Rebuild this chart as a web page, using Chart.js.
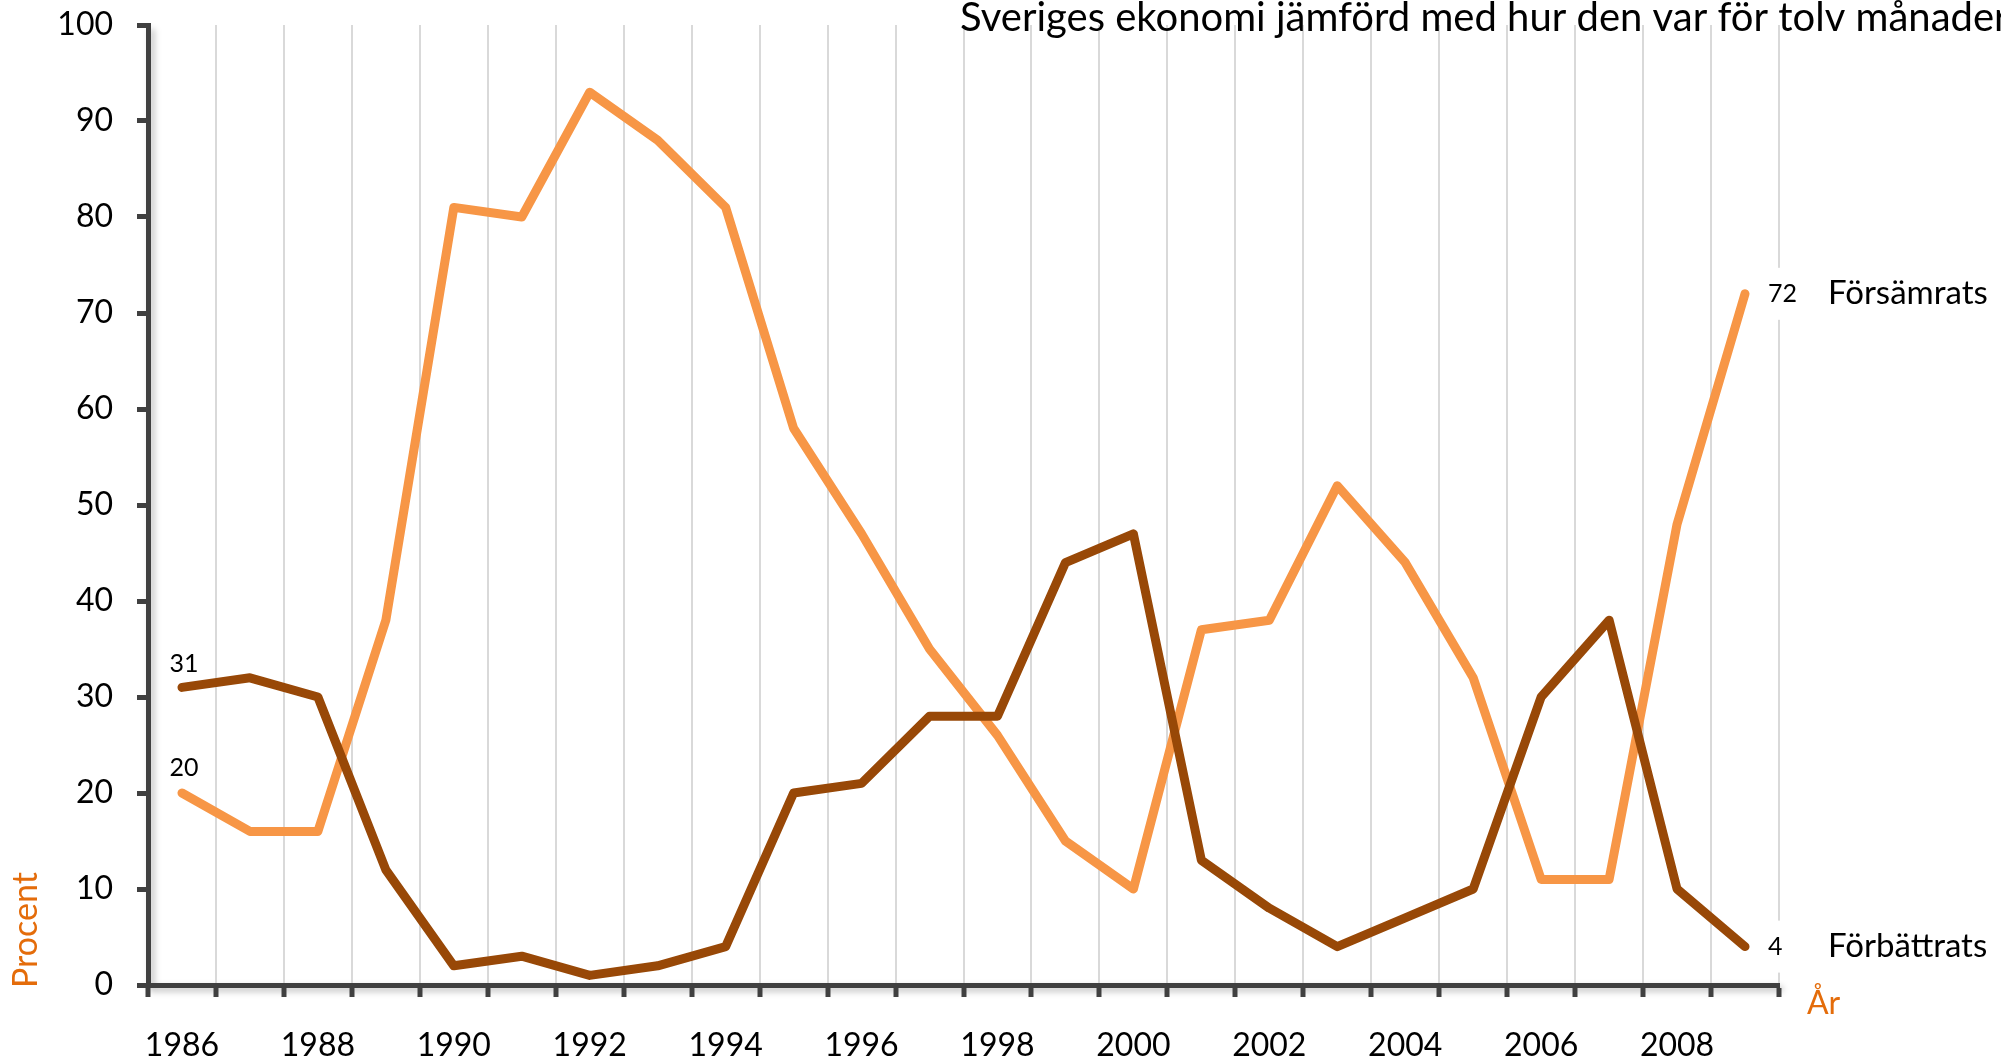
<!DOCTYPE html>
<html>
<head>
<meta charset="utf-8">
<style>
  html, body { margin: 0; padding: 0; background: #fff; }
</style>
</head>
<body>
<canvas id="myChart" width="2001" height="1061"></canvas>
<script src="https://cdn.jsdelivr.net/npm/chart.js"></script>
<script>
    const years = [1986, 1987, 1988, 1989, 1990, 1991, 1992, 1993, 1994, 1995, 1996, 1997,
                   1998, 1999, 2000, 2001, 2002, 2003, 2004, 2005, 2006, 2007, 2008, 2009];
    const forsamrats = [20, 16, 16, 38, 81, 80, 93, 88, 81, 58, 47, 35,
                        26, 15, 10, 37, 38, 52, 44, 32, 11, 11, 48, 72];
    const forbattrats = [31, 32, 30, 12, 2, 3, 1, 2, 4, 20, 21, 28,
                         28, 44, 47, 13, 8, 4, 7, 10, 30, 38, 10, 4];
    const yTicks = [0, 10, 20, 30, 40, 50, 60, 70, 80, 90, 100];
    const seriesNames = ['Försämrats', 'Förbättrats'];
    const titel = 'Sveriges ekonomi jämförd med hur den var för tolv månader';

    const ljus = '#F79646';
    const mork = '#984807';
    const axelFarg = '#404040';
    const etikettFarg = '#E46C0A';

    const etiketter = {
        id: 'etiketter',
        beforeDraw(chart) {
            // skugga under axlarna
            const ctx = chart.ctx;
            const a = chart.chartArea;
            ctx.save();
            ctx.filter = 'blur(3px)';
            ctx.strokeStyle = 'rgba(0,0,0,0.25)';
            ctx.lineWidth = 5;
            ctx.beginPath();
            ctx.moveTo(a.left + 4, a.top + 4);
            ctx.lineTo(a.left + 4, a.bottom + 4);
            ctx.lineTo(a.right + 4, a.bottom + 4);
            ctx.stroke();
            ctx.restore();
        },
        afterDatasetsDraw(chart) {
            const ctx = chart.ctx;
            const x = chart.scales.x;
            const y = chart.scales.y;
            const n = years.length - 1;
            ctx.save();

            // titel
            ctx.font = '40px Lato';
            ctx.fillStyle = '#000';
            ctx.textAlign = 'left';
            ctx.textBaseline = 'alphabetic';
            ctx.fillText(titel, 960, 31);

            // startvärden
            ctx.font = '25px Lato';
            ctx.textAlign = 'center';
            ctx.textBaseline = 'middle';
            ctx.fillText(forbattrats[0], x.getPixelForValue(0) + 2, y.getPixelForValue(forbattrats[0]) - 23);
            ctx.fillText(forsamrats[0], x.getPixelForValue(0) + 2, y.getPixelForValue(forsamrats[0]) - 25);

            // slutvärden med vit bakgrund
            const slut = [[forsamrats[n], seriesNames[0]], [forbattrats[n], seriesNames[1]]];
            slut.forEach(([v, namn]) => {
                const px = x.getPixelForValue(n) + 23;
                const py = y.getPixelForValue(v);
                ctx.fillStyle = '#fff';
                ctx.fillRect(px - 6, py - 26, 46, 52);
                ctx.fillStyle = '#000';
                ctx.font = '25px Lato';
                ctx.textAlign = 'left';
                ctx.fillText(v, px, py);
                ctx.font = '33px Lato';
                ctx.fillText(namn, px + 60, py);
            });

            // axeltitlar
            ctx.fillStyle = etikettFarg;
            ctx.font = '32px Lato';
            ctx.textAlign = 'left';
            ctx.fillText('År', chart.chartArea.right + 28, chart.chartArea.bottom + 19);
            ctx.font = '34px Lato';
            ctx.translate(26, 988);
            ctx.rotate(-Math.PI / 2);
            ctx.fillText('Procent', 0, 0);
            ctx.restore();
        }
    };

    const ctx = document.getElementById('myChart');
    new Chart(ctx, {
        type: 'line',
        data: {
            labels: years,
            datasets: [
                { label: seriesNames[1], data: forbattrats, borderColor: mork, backgroundColor: mork },
                { label: seriesNames[0], data: forsamrats, borderColor: ljus, backgroundColor: ljus }
            ]
        },
        options: {
            responsive: false,
            animation: false,
            layout: { padding: { top: 25, right: 222, left: 0, bottom: 0 } },
            plugins: {
                legend: { display: false },
                tooltip: { enabled: false }
            },
            elements: {
                point: { radius: 0 },
                line: { borderWidth: 9, borderCapStyle: 'round', borderJoinStyle: 'round', tension: 0 }
            },
            scales: {
                x: {
                    type: 'category',
                    offset: true,
                    grid: { offset: true, color: '#d9d9d9', lineWidth: 2, drawTicks: true,
                            tickLength: 12, tickColor: axelFarg, tickWidth: 5 },
                    border: { color: axelFarg, width: 5 },
                    ticks: {
                        autoSkip: false, maxRotation: 0, padding: 29, color: '#000',
                        font: { family: 'Lato', size: 32 },
                        callback: function(value, index) {
                            return index % 2 === 0 ? years[index] : '';
                        }
                    },
                    afterFit: s => { s.height = 76; }
                },
                y: {
                    min: 0,
                    max: 100,
                    grid: { drawOnChartArea: false, drawTicks: true, tickLength: 11,
                            tickColor: axelFarg, tickWidth: 5 },
                    border: { color: axelFarg, width: 5 },
                    afterBuildTicks: s => { s.ticks = yTicks.map(v => ({ value: v })); },
                    ticks: {
                        padding: 24, color: '#000',
                        font: { family: 'Lato', size: 32 }
                    },
                    afterFit: s => {
                        s.width = 148;
                        s.paddingTop = 0;
                        s.paddingBottom = 0;
                    }
                }
            }
        },
        plugins: [etiketter]
    });
</script>
</body>
</html>
